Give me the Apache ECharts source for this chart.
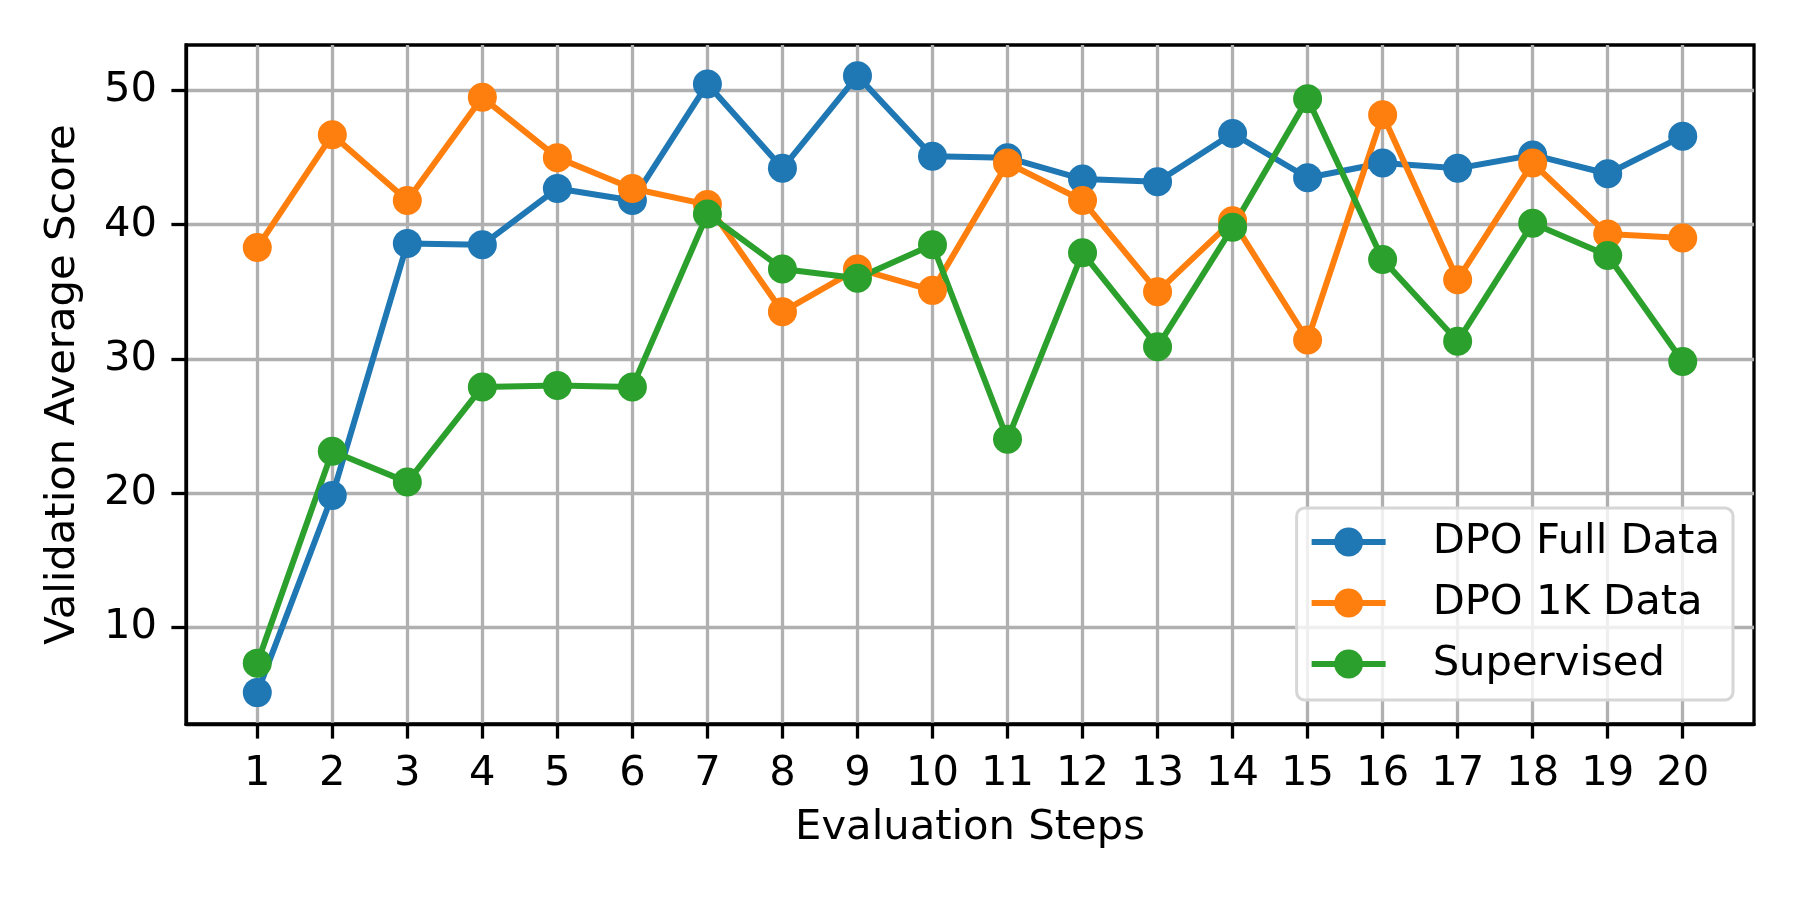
<!DOCTYPE html>
<html>
<head>
<meta charset="utf-8">
<script src="https://cdn.jsdelivr.net/npm/echarts@6/dist/echarts.min.js"></script>
<style>
  html, body { margin: 0; padding: 0; background: #fff; }
  #chart { width: 1800px; height: 900px; }
</style>
</head>
<body>
<div id="chart"></div>
<script>
    // evaluation steps
    var steps = [1, 2, 3, 4, 5, 6, 7, 8, 9, 10, 11, 12, 13, 14, 15, 16, 17, 18, 19, 20];
    var yTicks = [10, 20, 30, 40, 50];
    // scores
    var dpoFull = [5.1, 19.8, 38.6, 38.5, 42.7, 41.8, 50.5, 44.2, 51.1, 45.1, 45.0, 43.4, 43.2, 46.8, 43.5, 44.6, 44.2, 45.2, 43.8, 46.6];
    var dpo1k = [38.3, 46.7, 41.8, 49.5, 45.0, 42.7, 41.5, 33.5, 36.7, 35.1, 44.6, 41.8, 35.0, 40.3, 31.4, 48.2, 35.9, 44.6, 39.3, 39.0];
    var supervised = [7.3, 23.1, 20.8, 27.9, 28.0, 27.9, 40.8, 36.7, 36.0, 38.5, 24.0, 37.9, 30.9, 39.8, 49.4, 37.4, 31.3, 40.1, 37.7, 29.8];

    var names = ['DPO Full Data', 'DPO 1K Data', 'Supervised'];
    var colors = ['#1f77b4', '#ff7f0e', '#2ca02c'];
    var font = 'DejaVu Sans';

    function pairs(vals) {
        return vals.map(function(v, k) {
            return [steps[k], v];
        });
    }

    function mkSeries(name, vals, color) {
        return {
            name: name,
            type: 'line',
            data: pairs(vals),
            symbol: 'circle',
            symbolSize: 29,
            showAllSymbol: true,
            lineStyle: { color: color, width: 6 },
            itemStyle: { color: color },
            emphasis: { disabled: true },
            animation: false
        };
    }

    var chart = echarts.init(document.getElementById('chart'));
    chart.setOption({
        backgroundColor: '#fff',
        textStyle: { fontFamily: font },
        grid: { left: 186, right: 46, top: 45, bottom: 176, show: true, borderColor: '#000', borderWidth: 3.3 },
        legend: {
            orient: 'vertical',
            right: 67,
            top: 508,
            data: names,
            itemWidth: 74,
            itemHeight: 36,
            itemGap: 19,
            padding: [13, 13, 15, 12],
            backgroundColor: 'rgba(255,255,255,0.8)',
            borderColor: '#d6d6d6',
            borderWidth: 3,
            borderRadius: 8,
            lineStyle: { width: 6 },
            textStyle: { fontFamily: font, fontSize: 41.7, color: '#000', padding: [0, 0, 0, 42] }
        },
        xAxis: {
            type: 'value',
            min: 0.05,
            max: 20.95,
            name: 'Evaluation Steps',
            nameLocation: 'middle',
            nameGap: 83,
            nameTextStyle: { fontFamily: font, fontSize: 41.7, color: '#000' },
            axisLine: { onZero: false, lineStyle: { color: '#000', width: 3.3 } },
            axisTick: { show: true, length: 14.6, lineStyle: { color: '#000', width: 3.3 }, customValues: steps },
            axisLabel: { fontFamily: font, fontSize: 41.7, color: '#000', margin: 29, customValues: steps },
            splitLine: { show: true, lineStyle: { color: '#b0b0b0', width: 3.3 } }
        },
        yAxis: {
            type: 'value',
            min: 2.76,
            max: 53.4,
            name: 'Validation Average Score',
            nameLocation: 'middle',
            nameGap: 102,
            nameTextStyle: { fontFamily: font, fontSize: 41.7, color: '#000' },
            axisLine: { show: true, lineStyle: { color: '#000', width: 3.3 } },
            axisTick: { show: true, length: 14.6, lineStyle: { color: '#000', width: 3.3 }, customValues: yTicks },
            axisLabel: { fontFamily: font, fontSize: 41.7, color: '#000', margin: 29, customValues: yTicks },
            splitLine: { show: true, lineStyle: { color: '#b0b0b0', width: 3.3 } }
        },
        series: [
            mkSeries(names[0], dpoFull, colors[0]),
            mkSeries(names[1], dpo1k, colors[1]),
            mkSeries(names[2], supervised, colors[2])
        ]
    });
</script>
</body>
</html>
